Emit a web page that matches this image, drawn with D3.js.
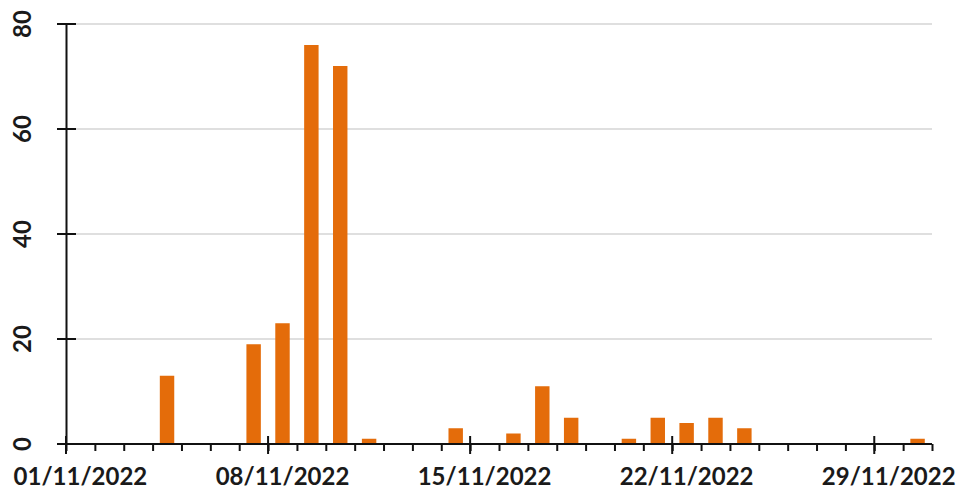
<!DOCTYPE html>
<html><head><meta charset="utf-8">
<script src="https://cdn.jsdelivr.net/npm/d3@7"></script>
<style>body{margin:0;background:#fff}svg{display:block}text{font-family:Lato,"Open Sans",sans-serif;font-weight:700;fill:#1a1a1a}</style>
</head><body>
<svg id="c" width="956" height="495"></svg>
<script>
const dates = ["04/11/2022","07/11/2022","08/11/2022","09/11/2022","10/11/2022","11/11/2022","14/11/2022","16/11/2022","17/11/2022","18/11/2022","20/11/2022","21/11/2022","22/11/2022","23/11/2022","24/11/2022","30/11/2022"];
const values = [13,19,23,76,72,1,3,2,11,5,1,5,4,5,3,1];
const xTickLabels = ["01/11/2022","08/11/2022","15/11/2022","22/11/2022","29/11/2022"];
const yTicks = [0,20,40,60,80];

const parse = d3.timeParse("%d/%m/%Y");
const svg = d3.select("#c");
const x0 = 66, x1 = 932, yTop = 24, yBot = 444;
const x = d3.scaleTime().domain([parse("01/11/2022"), parse("01/12/2022")]).range([x0, x1]);
const y = d3.scaleLinear().domain([0, 80]).range([yBot, yTop]);
const day = 864e5;
const dayW = x(new Date(+parse("01/11/2022") + day)) - x0;

// gridlines
svg.append("g").selectAll("line").data(yTicks.filter(d => d > 0)).join("line")
  .attr("x1", x0).attr("x2", x1).attr("y1", d => y(d)).attr("y2", d => y(d))
  .attr("stroke", "#d4d4d4").attr("stroke-width", 1.5);

// bars
const bw = dayW * 0.5;
svg.append("g").selectAll("rect").data(dates.map((d, i) => ({d: parse(d), v: values[i]}))).join("rect")
  .attr("x", d => x(d.d) + dayW / 2 - bw / 2).attr("width", bw)
  .attr("y", d => y(d.v)).attr("height", d => yBot - y(d.v))
  .attr("fill", "#e46c0a");

// y axis
const ya = svg.append("g").attr("transform", `translate(${x0},0)`)
  .call(d3.axisLeft(y).tickValues(yTicks).tickSize(0).tickFormat(""));
ya.select(".domain").attr("stroke", "#111").attr("stroke-width", 2);
svg.append("g").selectAll("line").data(yTicks).join("line")
  .attr("x1", x0 - 9).attr("x2", x0 + 10).attr("y1", d => y(d)).attr("y2", d => y(d))
  .attr("stroke", "#111").attr("stroke-width", 2);
svg.append("g").selectAll("text").data(yTicks).join("text")
  .attr("transform", d => `translate(31,${y(d)}) rotate(-90)`)
  .attr("text-anchor", "middle").attr("font-size", 24).text(d => d);

// x axis
const xa = svg.append("g").attr("transform", `translate(0,${yBot})`)
  .call(d3.axisBottom(x).ticks(d3.timeDay.every(1)).tickSize(7).tickFormat(""));
xa.select(".domain").attr("stroke", "#111").attr("stroke-width", 2).attr("d", `M${x0 - 9},0H${x1}`);
xa.selectAll(".tick line").attr("stroke", "#111").attr("stroke-width", 2);
const majors = xTickLabels.map(parse);
svg.append("g").selectAll("line").data(majors).join("line")
  .attr("x1", d => x(d)).attr("x2", d => x(d)).attr("y1", yBot - 8).attr("y2", yBot + 10)
  .attr("stroke", "#111").attr("stroke-width", 2);
svg.append("g").selectAll("text").data(xTickLabels).join("text")
  .attr("x", d => x(parse(d)) + dayW / 2).attr("y", 485)
  .attr("text-anchor", "middle").attr("font-size", 24).text(d => d);
</script>
</body></html>
